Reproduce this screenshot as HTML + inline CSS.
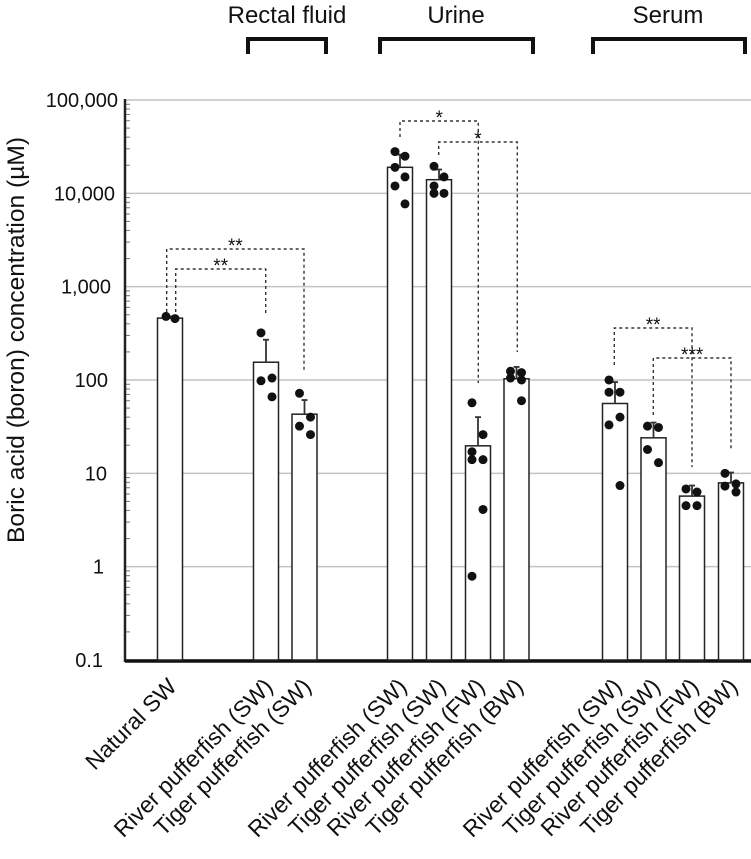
<!DOCTYPE html>
<html><head><meta charset="utf-8"><style>
body{margin:0;background:#fff}
svg text{font-family:"Liberation Sans",Arial,sans-serif;fill:#111}
</style></head><body>
<svg id="chart" width="751" height="854" viewBox="0 0 751 854" xmlns="http://www.w3.org/2000/svg">
<g id="grid"></g><g id="marks"></g><g id="annot"></g>
</svg>
<script>
const categories=["Natural SW","River pufferfish (SW)","Tiger pufferfish (SW)","River pufferfish (SW)","Tiger pufferfish (SW)","River pufferfish (FW)","Tiger pufferfish (BW)","River pufferfish (SW)","Tiger pufferfish (SW)","River pufferfish (FW)","Tiger pufferfish (BW)"];
const centers=[170,266,304.5,400,439,478,516.5,615,653.5,692,731];
const means=[460,155,43,19000,14000,19.7,103,56,24,5.7,7.9];
const errTops=[480,270,61,26000,18000,40,138,95,35,7.4,10.2];
const points=[
 [[-4,480],[5,455]],
 [[-5,320],[-5,98],[6,105],[6,66]],
 [[-5,72],[6,40],[-5,32],[6,26]],
 [[-5,28000],[5,25000],[-5,19000],[5,15000],[-5,12000],[5,7700]],
 [[-5,19500],[5,15000],[-5,12000],[-5,10000],[5,10000]],
 [[-6,57],[5,26],[-6,17],[-6,14],[5,14],[5,4.1],[-6,0.79]],
 [[-6,124],[5,120],[-6,105],[5,100],[5,60]],
 [[-6,100],[-6,74],[5,74],[5,40],[-6,33],[5,7.4]],
 [[-6,32],[5,31],[-6,18],[5,13]],
 [[-6,6.8],[5,6.3],[-6,4.5],[5,4.5]],
 [[-6,10],[-6,7.3],[5,7.7],[5,6.3]]
];
const tickVals=[100000,10000,1000,100,10,1,0.1];
const tickLabels=["100,000","10,000","1,000","100","10","1","0.1"];
const groups=[["Rectal fluid",248,326,287],["Urine",380,533,456],["Serum",593,745,668]];
const sig=[
 ["**",175.7,265.7,269,312,315],["**",166.7,304,249,312,372],
 ["*",400,478.3,121,137,383],["*",438.7,517.3,142,155,352],
 ["**",614.3,692,328,365,467],["***",653.3,731,358,415,450]
];
const NS="http://www.w3.org/2000/svg";
const AX=125;
function y(v){return 100+(5-Math.log10(v))*93.33;}
function mk(p,t,a){const e=document.createElementNS(NS,t);for(const k in a)e.setAttribute(k,a[k]);p.appendChild(e);return e;}
const grid=document.getElementById('grid'),marks=document.getElementById('marks'),ann=document.getElementById('annot');
const labelRight=[118,115,111,108,107,104,103];
tickVals.forEach((v,i)=>{
 const l=mk(grid,'line',{x1:AX,x2:751,y1:y(v),y2:y(v),stroke:'#c4c4c4','stroke-width':1.5});
 
 
 const t=mk(grid,'text',{x:labelRight[i],y:y(v)+7,'text-anchor':'end','font-size':20});
 t.textContent=tickLabels[i];
 
 
 if(v>0.1){for(let m=2;m<=9;m++){const mv=v/10*m;mk(grid,'line',{x1:AX,x2:AX+5,y1:y(mv),y2:y(mv),stroke:'#777','stroke-width':1});}}
});
const ax=mk(grid,'line',{x1:AX,x2:AX,y1:99,y2:662,stroke:'#222','stroke-width':2.5});


const bx=mk(grid,'line',{x1:AX,x2:751,y1:661,y2:661,stroke:'#111','stroke-width':3.5});


const yt=mk(grid,'text',{x:0,y:0,transform:'translate(24,340) rotate(-90)','text-anchor':'middle','font-size':24,textLength:406,lengthAdjust:'spacingAndGlyphs'});
yt.textContent="Boric acid (boron) concentration (µM)";


categories.forEach((c,i)=>{
 const cx=centers[i],top=y(means[i]);
 const r=mk(marks,'rect',{x:cx-12.5,y:top,width:25,height:660-top,fill:'#fff',stroke:'#222','stroke-width':1.5});
 
 
 const et=y(errTops[i]);
 mk(marks,'line',{x1:cx,x2:cx,y1:et,y2:top,stroke:'#333','stroke-width':1.8});
 mk(marks,'line',{x1:cx-3,x2:cx+3,y1:et,y2:et,stroke:'#333','stroke-width':1.8});
 points[i].forEach(p=>{
  const d=mk(marks,'circle',{cx:cx+p[0],cy:y(p[1]),r:4.5,fill:'#111'});
  
  
 });
 const t=mk(marks,'text',{x:0,y:0,transform:`translate(${cx+8},688) rotate(-45)`,'text-anchor':'end','font-size':23});
 t.textContent=c;
 
 
});
groups.forEach(g=>{
 const p=mk(ann,'path',{d:`M${g[1]},54V39H${g[2]}V54`,fill:'none',stroke:'#111','stroke-width':4});
 
 
 const t=mk(ann,'text',{x:g[3],y:23,'text-anchor':'middle','font-size':24});
 t.textContent=g[0];
 
 
});
sig.forEach(s=>{
 const p=mk(ann,'path',{d:`M${s[1]},${s[4]}V${s[3]}H${s[2]}V${s[5]}`,fill:'none',stroke:'#333','stroke-width':1.4,'stroke-dasharray':'3,3'});
 
 
 const t=mk(ann,'text',{x:(s[1]+s[2])/2,y:s[3]+3,'text-anchor':'middle','font-size':19});
 t.textContent=s[0];
 
 
});
</script>
</body></html>
